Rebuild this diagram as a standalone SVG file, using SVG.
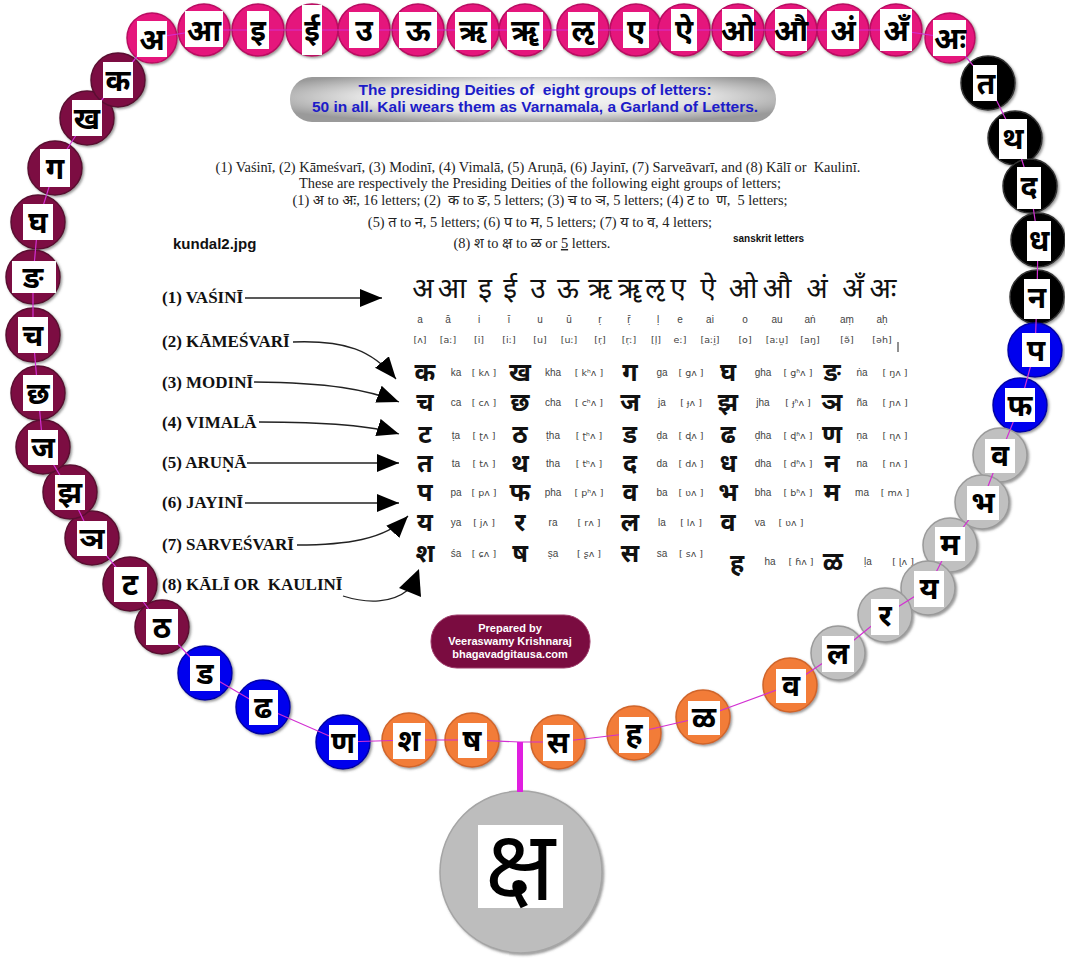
<svg xmlns="http://www.w3.org/2000/svg" width="1065" height="958" viewBox="0 0 1065 958">
<defs>
<style>
.pk{fill:#e5137b;stroke:#b80f62;stroke-width:1.5}
.mr{fill:#7b0c43;stroke:#5a0830;stroke-width:1.5}
.bk{fill:#000;stroke:#333;stroke-width:1.5}
.bl{fill:#0000ee;stroke:#0000a8;stroke-width:1.5}
.gy{fill:#c0c0c0;stroke:#9a9a9a;stroke-width:1.5}
.or{fill:#f27c38;stroke:#d0652a;stroke-width:1.5}
.bx{fill:#fff}
.g{font-family:"Noto Sans Devanagari","Noto Serif Devanagari","Lohit Devanagari",sans-serif;font-size:30px;font-weight:bold;fill:#000;text-anchor:middle}
.ser{font-family:"Liberation Serif","Noto Sans Devanagari",serif;font-size:14.4px;fill:#222;text-anchor:middle}
.lab{font-family:"Liberation Serif",serif;font-size:17px;font-weight:bold;fill:#111}
.dv{font-family:"Noto Sans Devanagari","Noto Serif Devanagari",sans-serif;fill:#111;text-anchor:middle}
.tr{font-family:"Liberation Sans","DejaVu Sans",sans-serif;font-size:10px;fill:#444;text-anchor:middle}
.ipa{font-family:"DejaVu Sans","Liberation Sans",sans-serif;font-size:9.5px;fill:#444;text-anchor:middle}
.ban{font-family:"Liberation Sans",Arial,sans-serif;font-size:15.5px;font-weight:bold;fill:#1c1cc8;text-anchor:middle}
.pb{font-family:"Liberation Sans",Arial,sans-serif;font-size:11px;font-weight:bold;fill:#fff;text-anchor:middle}
.arr{fill:none;stroke:#222;stroke-width:1.3;marker-end:url(#ah)}
</style>
<marker id="ah" markerUnits="userSpaceOnUse" markerWidth="24" markerHeight="20" refX="22" refY="9" orient="auto">
<path d="M0,0 L22,9 L0,18 z" fill="#000"/>
</marker>
<filter id="sh" x="-20%" y="-20%" width="140%" height="140%">
<feDropShadow dx="1.5" dy="1.5" stdDeviation="1" flood-color="#555" flood-opacity="0.6"/>
</filter>
<radialGradient id="pill" cx="50%" cy="45%" r="60%">
<stop offset="0" stop-color="#fbfbfb"/>
<stop offset="0.6" stop-color="#e2e2e2"/>
<stop offset="1" stop-color="#9a9a9a"/>
</radialGradient>
</defs>
<rect width="1065" height="958" fill="#fff"/>

<!-- banner -->
<g id="banner">
<rect x="290" y="77" width="486" height="45" rx="22" fill="url(#pill)"/>
<text class="ban" x="535" y="95" xml:space="preserve">The presiding Deities of  eight groups of letters:</text>
<text class="ban" x="535" y="112">50 in all. Kali wears them as Varnamala, a Garland of Letters.</text>
</g>

<!-- description -->
<g id="description">
<text class="ser" x="538" y="172" xml:space="preserve">(1) Vaśinī, (2) Kāmeśvarī, (3) Modinī, (4) Vimalā, (5) Aruṇā, (6) Jayinī, (7) Sarveāvarī, and (8) Kālī or  Kaulinī.</text>
<text class="ser" x="540" y="188">These are respectively the Presiding Deities of the following eight groups of letters;</text>
<text class="ser" x="540" y="205" xml:space="preserve">(1) अ to अः, 16 letters; (2)  क to ङ, 5 letters; (3) च to ञ, 5 letters; (4) ट to  ण,  5 letters;</text>
<text class="ser" x="540" y="227">(5) त to न, 5 letters; (6) प to म, 5 letters; (7) य to व, 4 letters;</text>
<text class="ser" x="532" y="248">(8) श to क्ष to ळ or <tspan text-decoration="underline">5</tspan> letters.</text>
<text x="173" y="249" font-family="Liberation Sans, Arial, sans-serif" font-size="15" font-weight="bold" fill="#111">kundal2.jpg</text>
<text x="733" y="242" font-family="Liberation Sans, Arial, sans-serif" font-size="10" font-weight="bold" fill="#111">sanskrit letters</text>
</g>

<!-- deity labels -->
<g id="n-vasini"><text class="lab" x="162" y="303">(1) VAŚINĪ</text></g>
<g id="n-kamesvari"><text class="lab" x="162" y="347">(2) KĀMEŚVARĪ</text></g>
<g id="n-modini"><text class="lab" x="162" y="388">(3) MODINĪ</text></g>
<g id="n-vimala"><text class="lab" x="162" y="428">(4) VIMALĀ</text></g>
<g id="n-aruna"><text class="lab" x="162" y="468">(5) ARUṆĀ</text></g>
<g id="n-jayini"><text class="lab" x="162" y="508">(6) JAYINĪ</text></g>
<g id="n-sarvesvari"><text class="lab" x="162" y="550">(7) SARVEŚVARĪ</text></g>
<g id="n-kali"><text class="lab" x="162" y="590" xml:space="preserve">(8) KĀLĪ OR  KAULINĪ</text></g>

<!-- table -->
<g id="table">
<g class="dv" font-size="28">
<text x="423" y="298">अ</text><text x="452" y="298">आ</text><text x="485" y="298">इ</text><text x="510" y="298">ई</text><text x="538" y="298">उ</text><text x="568" y="298">ऊ</text><text x="600" y="298">ऋ</text><text x="630" y="298">ॠ</text><text x="655" y="298">ऌ</text><text x="678" y="298">ए</text><text x="708" y="298">ऐ</text><text x="743" y="298">ओ</text><text x="777" y="298">औ</text><text x="817" y="298">अं</text><text x="853" y="298">अँ</text><text x="883" y="298">अः</text>
</g>
<g class="tr">
<text x="420" y="323">a</text><text x="448" y="323">ā</text><text x="479" y="323">i</text><text x="509" y="323">ī</text><text x="540" y="323">u</text><text x="569" y="323">ū</text><text x="600" y="323">ṛ</text><text x="629" y="323">ṝ</text><text x="658" y="323">ḷ</text><text x="680" y="323">e</text><text x="710" y="323">ai</text><text x="745" y="323">o</text><text x="777" y="323">au</text><text x="810" y="323">aṅ</text><text x="847" y="323">aṃ</text><text x="882" y="323">aḥ</text>
</g>
<g class="ipa">
<text x="420" y="343">[ʌ]</text><text x="448" y="343">[aː]</text><text x="479" y="343">[i]</text><text x="509" y="343">[iː]</text><text x="540" y="343">[u]</text><text x="569" y="343">[uː]</text><text x="600" y="343">[r̩]</text><text x="629" y="343">[r̩ː]</text><text x="656" y="343">[l̩]</text><text x="680" y="343">eː]</text><text x="710" y="343">[aːi̯]</text><text x="745" y="343">[o]</text><text x="777" y="343">[aːu̯]</text><text x="810" y="343">[aŋ]</text><text x="847" y="343">[ə̃]</text><text x="882" y="343">[əh]</text>
</g>
<line x1="898" y1="342" x2="898" y2="352" stroke="#222" stroke-width="1"/>
<g class="dv" font-size="25" font-weight="bold">
<text x="425" y="381">क</text><text x="520" y="381">ख</text><text x="630" y="381">ग</text><text x="728" y="381">घ</text><text x="832" y="381">ङ</text>
<text x="425" y="411">च</text><text x="520" y="411">छ</text><text x="630" y="411">ज</text><text x="728" y="411">झ</text><text x="832" y="411">ञ</text>
<text x="425" y="443">ट</text><text x="520" y="443">ठ</text><text x="630" y="443">ड</text><text x="728" y="443">ढ</text><text x="832" y="443">ण</text>
<text x="425" y="472">त</text><text x="520" y="472">थ</text><text x="630" y="472">द</text><text x="728" y="472">ध</text><text x="832" y="472">न</text>
<text x="425" y="501">प</text><text x="520" y="501">फ</text><text x="630" y="501">व</text><text x="728" y="501">भ</text><text x="832" y="501">म</text>
<text x="425" y="531">य</text><text x="520" y="531">र</text><text x="630" y="531">ल</text><text x="728" y="531">व</text>
<text x="425" y="562">श</text><text x="520" y="562">ष</text><text x="630" y="562">स</text><text x="737" y="572">ह</text><text x="833" y="570">ळ</text>
</g>
<g class="tr">
<text x="456" y="376">ka</text><text x="553" y="376">kha</text><text x="662" y="376">ga</text><text x="763" y="376">gha</text><text x="862" y="376">ṅa</text>
<text x="456" y="406">ca</text><text x="553" y="406">cha</text><text x="662" y="406">ja</text><text x="763" y="406">jha</text><text x="862" y="406">ña</text>
<text x="456" y="439">ṭa</text><text x="553" y="439">ṭha</text><text x="662" y="439">ḍa</text><text x="763" y="439">ḍha</text><text x="862" y="439">ṇa</text>
<text x="456" y="467">ta</text><text x="553" y="467">tha</text><text x="662" y="467">da</text><text x="763" y="467">dha</text><text x="862" y="467">na</text>
<text x="456" y="496">pa</text><text x="553" y="496">pha</text><text x="662" y="496">ba</text><text x="763" y="496">bha</text><text x="862" y="496">ma</text>
<text x="456" y="526">ya</text><text x="553" y="526">ra</text><text x="662" y="526">la</text><text x="760" y="526">va</text>
<text x="456" y="557">śa</text><text x="553" y="557">ṣa</text><text x="662" y="557">sa</text><text x="770" y="565">ha</text><text x="868" y="565">ḷa</text>
</g>
<g class="ipa">
<text x="484" y="376">[ kʌ ]</text><text x="589" y="376">[ kʰʌ ]</text><text x="691" y="376">[ gʌ ]</text><text x="798" y="376">[ gʱʌ ]</text><text x="895" y="376">[ ŋʌ ]</text>
<text x="484" y="406">[ cʌ ]</text><text x="589" y="406">[ cʰʌ ]</text><text x="691" y="406">[ ɟʌ ]</text><text x="798" y="406">[ ɟʱʌ ]</text><text x="895" y="406">[ ɲʌ ]</text>
<text x="484" y="439">[ ʈʌ ]</text><text x="589" y="439">[ ʈʰʌ ]</text><text x="691" y="439">[ ɖʌ ]</text><text x="798" y="439">[ ɖʱʌ ]</text><text x="895" y="439">[ ɳʌ ]</text>
<text x="484" y="467">[ tʌ ]</text><text x="589" y="467">[ tʰʌ ]</text><text x="691" y="467">[ dʌ ]</text><text x="798" y="467">[ dʱʌ ]</text><text x="895" y="467">[ nʌ ]</text>
<text x="484" y="496">[ pʌ ]</text><text x="589" y="496">[ pʰʌ ]</text><text x="691" y="496">[ ʋʌ ]</text><text x="798" y="496">[ bʱʌ ]</text><text x="895" y="496">[ mʌ ]</text>
<text x="484" y="526">[ jʌ ]</text><text x="589" y="526">[ rʌ ]</text><text x="691" y="526">[ lʌ ]</text><text x="791" y="526">[ ʋʌ ]</text>
<text x="484" y="557">[ ɕʌ ]</text><text x="589" y="557">[ ʂʌ ]</text><text x="691" y="557">[ sʌ ]</text><text x="801" y="565">[ ɦʌ ]</text><text x="903" y="565">[ ɭʌ ]</text>
</g>
</g>

<!-- prepared by -->
<g id="n-prepared">
<rect x="431" y="615" width="159" height="53" rx="26" fill="#7a0c40" stroke="#9c3a68" stroke-width="1"/>
<text class="pb" x="510" y="632">Prepared by</text>
<text class="pb" x="510" y="645">Veeraswamy Krishnaraj</text>
<text class="pb" x="510" y="658">bhagavadgitausa.com</text>
</g>

<!-- garland nodes -->
<g id="garland" filter="url(#sh)">
<g id="n-a"><circle class="pk" cx="152" cy="38" r="25"/></g>
<g id="n-aa"><circle class="pk" cx="204" cy="30" r="26"/></g>
<g id="n-i"><circle class="pk" cx="258" cy="30" r="26"/></g>
<g id="n-ii"><circle class="pk" cx="312" cy="30" r="26"/></g>
<g id="n-u"><circle class="pk" cx="364" cy="30" r="26"/></g>
<g id="n-uu"><circle class="pk" cx="418" cy="30" r="26"/></g>
<g id="n-r"><circle class="pk" cx="473" cy="30" r="26"/></g>
<g id="n-rr"><circle class="pk" cx="525" cy="30" r="26"/></g>
<g id="n-lr"><circle class="pk" cx="583" cy="30" r="26"/></g>
<g id="n-e"><circle class="pk" cx="636" cy="30" r="26"/></g>
<g id="n-ai"><circle class="pk" cx="684" cy="30" r="26"/></g>
<g id="n-o"><circle class="pk" cx="738" cy="30" r="26"/></g>
<g id="n-au"><circle class="pk" cx="791" cy="30" r="26"/></g>
<g id="n-am"><circle class="pk" cx="843" cy="30" r="26"/></g>
<g id="n-an"><circle class="pk" cx="896" cy="30" r="26"/></g>
<g id="n-ah"><circle class="pk" cx="950" cy="38" r="25"/></g>
<g id="n-ta"><circle class="bk" cx="988" cy="83" r="27"/></g>
<g id="n-tha"><circle class="bk" cx="1015" cy="138" r="27"/></g>
<g id="n-da"><circle class="bk" cx="1030" cy="186" r="27"/></g>
<g id="n-dha"><circle class="bk" cx="1038" cy="240" r="27"/></g>
<g id="n-na"><circle class="bk" cx="1037" cy="297" r="27"/></g>
<g id="n-pa"><circle class="bl" cx="1035" cy="350" r="27"/></g>
<g id="n-pha"><circle class="bl" cx="1020" cy="405" r="27"/></g>
<g id="n-ba"><circle class="gy" cx="1000" cy="455" r="27"/></g>
<g id="n-bha"><circle class="gy" cx="982" cy="502" r="27"/></g>
<g id="n-ma"><circle class="gy" cx="950" cy="545" r="27"/></g>
<g id="n-ya"><circle class="gy" cx="928" cy="588" r="27"/></g>
<g id="n-ra"><circle class="gy" cx="885" cy="615" r="27"/></g>
<g id="n-la"><circle class="gy" cx="838" cy="653" r="27"/></g>
<g id="n-va"><circle class="or" cx="790" cy="685" r="27"/></g>
<g id="n-lla"><circle class="or" cx="703" cy="717" r="27"/></g>
<g id="n-ha"><circle class="or" cx="634" cy="733" r="27"/></g>
<g id="n-sa"><circle class="or" cx="558" cy="742" r="27"/></g>
<g id="n-ssa"><circle class="or" cx="472" cy="740" r="27"/></g>
<g id="n-sha"><circle class="or" cx="409" cy="740" r="27"/></g>
<g id="n-nna"><circle class="bl" cx="343" cy="742" r="27"/></g>
<g id="n-ddha"><circle class="bl" cx="263" cy="707" r="27"/></g>
<g id="n-dda"><circle class="bl" cx="205" cy="673" r="27"/></g>
<g id="n-ttha"><circle class="mr" cx="162" cy="627" r="27"/></g>
<g id="n-tta"><circle class="mr" cx="130" cy="584" r="27"/></g>
<g id="n-nya"><circle class="mr" cx="92" cy="538" r="27"/></g>
<g id="n-jha"><circle class="mr" cx="70" cy="492" r="27"/></g>
<g id="n-ja"><circle class="mr" cx="43" cy="447" r="27"/></g>
<g id="n-chha"><circle class="mr" cx="38" cy="393" r="27"/></g>
<g id="n-ca"><circle class="mr" cx="33" cy="335" r="27"/></g>
<g id="n-nga"><circle class="mr" cx="33" cy="277" r="27"/></g>
<g id="n-gha"><circle class="mr" cx="38" cy="222" r="27"/></g>
<g id="n-ga"><circle class="mr" cx="55" cy="168" r="27"/></g>
<g id="n-kha"><circle class="mr" cx="87" cy="118" r="27"/></g>
<g id="n-ka"><circle class="mr" cx="118" cy="80" r="27"/></g>
<g id="n-ksha"><circle cx="521" cy="872" r="81" fill="#bdbdbd" stroke="#a5a5a5" stroke-width="1.5"/></g>
</g>

<!-- connectors -->
<g id="connectors">
<polyline fill="none" stroke="#d22fd2" stroke-width="1.2" points="152,38 204,30 258,30 312,30 364,30 418,30 473,30 525,30 583,30 636,30 684,30 738,30 791,30 843,30 896,30 950,38 988,83 1015,138 1030,186 1038,240 1037,297 1035,350 1020,405 1000,455 982,502 950,545 928,588 885,615 838,653 790,685 703,717 634,733 558,742 520,742 472,740 409,740 343,742 263,707 205,673 162,627 130,584 92,538 70,492 43,447 38,393 33,335 33,277 38,222 55,168 87,118 118,80 152,38"/>
<line x1="520" y1="742" x2="520" y2="792" stroke="#e01ee0" stroke-width="6"/>
<path class="arr" d="M245,298 L382,298"/>
<path class="arr" d="M293,342 C345,340 372,350 396,379"/>
<path class="arr" d="M254,382 C330,383 365,389 399,402"/>
<path class="arr" d="M259,422 C320,422 370,425 399,434"/>
<path class="arr" d="M247,463 L399,463"/>
<path class="arr" d="M245,503 L399,503"/>
<path class="arr" d="M297,545 C345,545 385,540 408,516"/>
<path fill="none" stroke="#222" stroke-width="1.3" d="M343,596 C368,604 392,603 408,590"/>
<polygon points="419,569 399,588 421,597" fill="#000"/>
</g>

<!-- letter boxes and glyphs -->
<g id="labels">
<g><rect class="bx" x="137" y="21" width="30" height="36"/><text class="g" x="152" y="50">अ</text></g>
<g><rect class="bx" x="185" y="11" width="38" height="36"/><text class="g" x="204" y="41">आ</text></g>
<g><rect class="bx" x="247" y="11" width="22" height="38"/><text class="g" x="258" y="41">इ</text></g>
<g><rect class="bx" x="302" y="5" width="20" height="50"/><text class="g" x="312" y="41">ई</text></g>
<g><rect class="bx" x="349" y="12" width="30" height="36"/><text class="g" x="364" y="41">उ</text></g>
<g><rect class="bx" x="399" y="12" width="38" height="36"/><text class="g" x="418" y="41">ऊ</text></g>
<g><rect class="bx" x="455" y="12" width="36" height="38"/><text class="g" x="473" y="41">ऋ</text></g>
<g><rect class="bx" x="507" y="12" width="36" height="38"/><text class="g" x="525" y="41">ॠ</text></g>
<g><rect class="bx" x="568" y="12" width="30" height="36"/><text class="g" x="583" y="41">ऌ</text></g>
<g><rect class="bx" x="623" y="12" width="26" height="36"/><text class="g" x="636" y="41">ए</text></g>
<g><rect class="bx" x="671" y="9" width="26" height="42"/><text class="g" x="684" y="41">ऐ</text></g>
<g><rect class="bx" x="722" y="9" width="32" height="42"/><text class="g" x="738" y="41">ओ</text></g>
<g><rect class="bx" x="775" y="9" width="32" height="42"/><text class="g" x="791" y="41">औ</text></g>
<g><rect class="bx" x="827" y="11" width="32" height="38"/><text class="g" x="843" y="41">अं</text></g>
<g><rect class="bx" x="880" y="9" width="32" height="42"/><text class="g" x="896" y="41">अँ</text></g>
<g><rect class="bx" x="933" y="20" width="33" height="36"/><text class="g" x="950" y="49">अः</text></g>
<g><rect class="bx" x="973" y="65" width="24" height="36"/><text class="g" x="986" y="94">त</text></g>
<g><rect class="bx" x="999" y="119" width="28" height="40"/><text class="g" x="1013" y="149">थ</text></g>
<g><rect class="bx" x="1017" y="167" width="24" height="42"/><text class="g" x="1029" y="197">द</text></g>
<g><rect class="bx" x="1027" y="221" width="24" height="40"/><text class="g" x="1039" y="251">ध</text></g>
<g><rect class="bx" x="1024" y="279" width="26" height="40"/><text class="g" x="1037" y="308">न</text></g>
<g><rect class="bx" x="1022" y="333" width="28" height="34"/><text class="g" x="1036" y="361">प</text></g>
<g><rect class="bx" x="1005" y="388" width="30" height="34"/><text class="g" x="1020" y="416">फ</text></g>
<g><rect class="bx" x="985" y="439" width="30" height="34"/><text class="g" x="1000" y="466">व</text></g>
<g><rect class="bx" x="967" y="486" width="32" height="34"/><text class="g" x="983" y="513">भ</text></g>
<g><rect class="bx" x="935" y="527" width="30" height="34"/><text class="g" x="950" y="555">म</text></g>
<g><rect class="bx" x="914" y="571" width="30" height="36"/><text class="g" x="929" y="599">य</text></g>
<g><rect class="bx" x="871" y="599" width="28" height="36"/><text class="g" x="885" y="626">र</text></g>
<g><rect class="bx" x="822" y="636" width="32" height="36"/><text class="g" x="838" y="664">ल</text></g>
<g><rect class="bx" x="776" y="669" width="30" height="34"/><text class="g" x="791" y="696">व</text></g>
<g><rect class="bx" x="688" y="701" width="32" height="34"/><text class="g" x="704" y="728">ळ</text></g>
<g><rect class="bx" x="619" y="717" width="30" height="36"/><text class="g" x="634" y="744">ह</text></g>
<g><rect class="bx" x="543" y="725" width="30" height="36"/><text class="g" x="558" y="753">स</text></g>
<g><rect class="bx" x="458" y="723" width="29" height="35"/><text class="g" x="472" y="751">ष</text></g>
<g><rect class="bx" x="393" y="723" width="32" height="36"/><text class="g" x="409" y="751">श</text></g>
<g><rect class="bx" x="329" y="725" width="29" height="35"/><text class="g" x="343" y="753">ण</text></g>
<g><rect class="bx" x="249" y="690" width="29" height="35"/><text class="g" x="263" y="718">ढ</text></g>
<g><rect class="bx" x="190" y="656" width="30" height="35"/><text class="g" x="205" y="684">ड</text></g>
<g><rect class="bx" x="146" y="609" width="32" height="36"/><text class="g" x="162" y="638">ठ</text></g>
<g><rect class="bx" x="114" y="567" width="33" height="35"/><text class="g" x="130" y="595">ट</text></g>
<g><rect class="bx" x="77" y="521" width="30" height="35"/><text class="g" x="92" y="549">ञ</text></g>
<g><rect class="bx" x="55" y="475" width="30" height="35"/><text class="g" x="70" y="503">झ</text></g>
<g><rect class="bx" x="28" y="430" width="30" height="35"/><text class="g" x="43" y="458">ज</text></g>
<g><rect class="bx" x="23" y="375" width="30" height="36"/><text class="g" x="38" y="404">छ</text></g>
<g><rect class="bx" x="18" y="317" width="30" height="36"/><text class="g" x="33" y="346">च</text></g>
<g><rect class="bx" x="12" y="261" width="44" height="32"/><text class="g" x="33" y="288">ङ</text></g>
<g><rect class="bx" x="23" y="204" width="30" height="36"/><text class="g" x="38" y="233">घ</text></g>
<g><rect class="bx" x="40" y="149" width="30" height="38"/><text class="g" x="55" y="179">ग</text></g>
<g><rect class="bx" x="72" y="100" width="30" height="36"/><text class="g" x="87" y="129">ख</text></g>
<g><rect class="bx" x="103" y="62" width="30" height="36"/><text class="g" x="118" y="91">क</text></g>
<g><rect class="bx" x="478" y="825" width="85" height="83"/><text class="g" x="520" y="900" style="font-size:98px;font-weight:normal">क्ष</text></g>
</g>
</svg>
